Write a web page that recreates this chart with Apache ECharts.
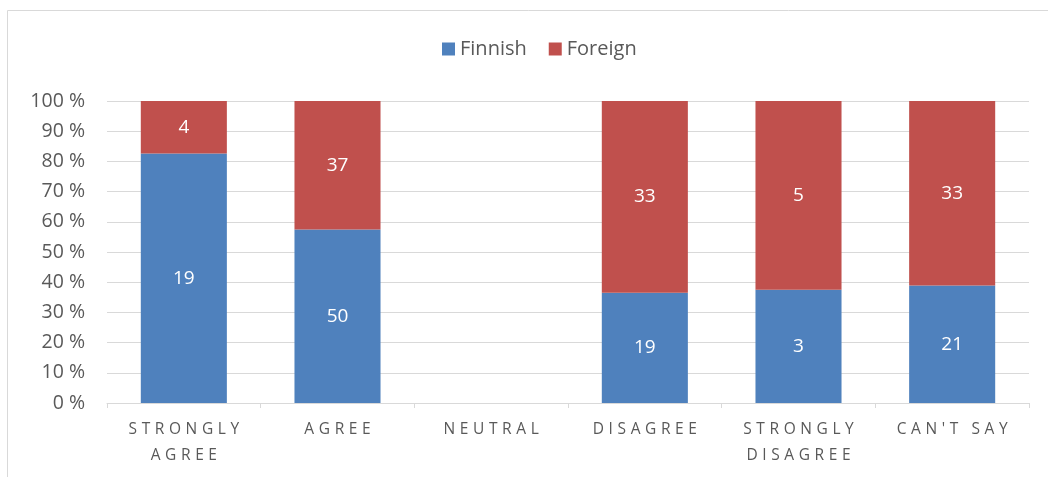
<!DOCTYPE html>
<html><head><meta charset="utf-8">
<script src="https://cdn.jsdelivr.net/npm/echarts@6/dist/echarts.min.js"></script>
<style>html,body{margin:0;padding:0;background:#fff}#c{width:1048px;height:477px}</style>
</head><body><div id="c"></div>
<script>
const categories = ["STRONGLY\nAGREE", "AGREE", "NEUTRAL", "DISAGREE", "STRONGLY\nDISAGREE", "CAN'T SAY"];
const finnish = [19, 50, 0, 19, 3, 21];
const foreign = [4, 37, 0, 33, 5, 33];
const yTicks = [0,10,20,30,40,50,60,70,80,90,100];

const totals = finnish.map((v,i)=>v+foreign[i]);
const pct = (arr)=>arr.map((v,i)=> totals[i] ? v/totals[i]*100 : 0);

// letter-spaced category labels (canvas letterSpacing applied only to the 15.5px axis-label font)
const origFill = CanvasRenderingContext2D.prototype.fillText;
CanvasRenderingContext2D.prototype.fillText = function(t, x, y, m){
  if ('letterSpacing' in this) {
    if (this.font.indexOf('15.5px') >= 0) { this.letterSpacing = '4.6px'; x += 2.3; }
    else this.letterSpacing = '0px';
  }
  return m === undefined ? origFill.call(this, t, x, y) : origFill.call(this, t, x, y, m);
};

const font = '"Open Sans", "Noto Sans", sans-serif';
const chart = echarts.init(document.getElementById('c'), null, {renderer:'canvas'});
chart.setOption({
  animation:false,
  textStyle:{fontFamily:font},
  graphic:[{type:'rect', shape:{x:7.5,y:10.5,width:1100,height:500}, style:{fill:'none', stroke:'#d9d9d9', lineWidth:1}, silent:true}],
  legend:{top:34, left:437, itemWidth:13, itemHeight:13, itemGap:22, icon:'rect',
    textStyle:{fontSize:20, color:'#595959', fontFamily:font}, data:['Finnish','Foreign']},
  grid:{left:107, right:19, top:101, bottom:74},
  xAxis:{type:'category', data:categories,
    axisLine:{lineStyle:{color:'#d9d9d9'}},
    axisTick:{show:true, length:5, lineStyle:{color:'#d9d9d9'}},
    axisLabel:{color:'#595959', fontSize:15.5, lineHeight:26, margin:14, interval:0, fontFamily:font}},
  yAxis:{type:'value', min:0, max:100, interval:10,
    axisLine:{show:false}, axisTick:{show:false},
    splitLine:{lineStyle:{color:'#d9d9d9'}},
    axisLabel:{color:'#595959', fontSize:19.5, margin:22, formatter:(v)=>v+' %', fontFamily:font}},
  series:[
    {name:'Finnish', type:'bar', stack:'s', barWidth:'56%', itemStyle:{color:'#4f81bd'},
      data:pct(finnish),
      label:{show:true, position:'inside', color:'#fff', fontSize:19, fontFamily:font,
        formatter:(p)=> totals[p.dataIndex] ? String(finnish[p.dataIndex]) : ''}},
    {name:'Foreign', type:'bar', stack:'s', barWidth:'56%', itemStyle:{color:'#c0504d'},
      data:pct(foreign),
      label:{show:true, position:'inside', color:'#fff', fontSize:19, fontFamily:font,
        formatter:(p)=> totals[p.dataIndex] ? String(foreign[p.dataIndex]) : ''}}
  ]
});
</script></body></html>
